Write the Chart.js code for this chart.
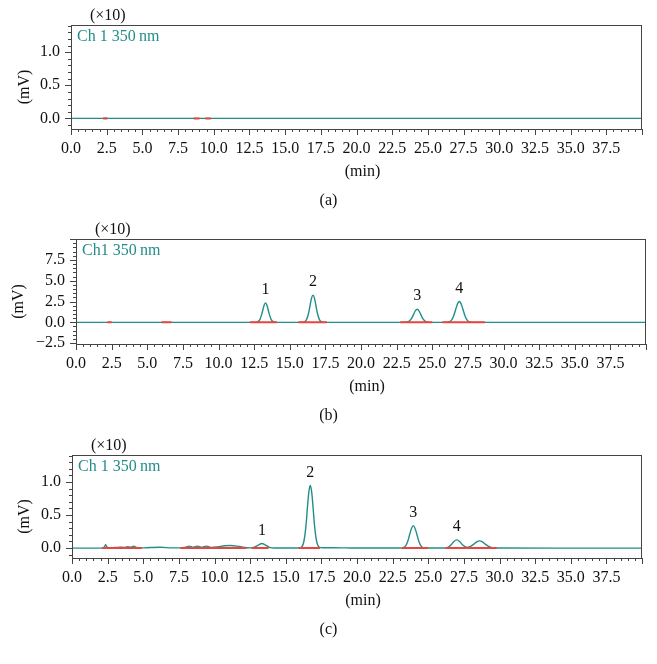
<!DOCTYPE html>
<html>
<head>
<meta charset="utf-8">
<script src="https://cdn.jsdelivr.net/npm/chart.js@4.4.1/dist/chart.umd.min.js"></script>
<style>
  html, body { margin: 0; padding: 0; background: #fff; }
  #wrap { position: relative; width: 657px; height: 664px; }
  canvas { position: absolute; left: 0; }
</style>
</head>
<body>
<div id="wrap">
  <canvas id="chartA" width="657" height="215" style="top:0"></canvas>
  <canvas id="chartB" width="657" height="215" style="top:215px"></canvas>
  <canvas id="chartC" width="657" height="234" style="top:430px"></canvas>
</div>
<script>
// tick labels
const timeTicks = [0, 2.5, 5, 7.5, 10, 12.5, 15, 17.5, 20, 22.5, 25, 27.5, 30, 32.5, 35, 37.5];
const mvTicksA = [0, 0.5, 1.0];
const mvTicksB = [-2.5, 0, 2.5, 5.0, 7.5];
const mvTicksC = [0, 0.5, 1.0];

// (a) blank
const timeA = [0, 2.2, 2.4, 2.6, 40];
const signalA = [0, 0, 0.004, 0, 0];
const baselineA = [[2.25, 2.55], [8.6, 9.0], [9.4, 9.8]];

// (b) standards
const timeB = [0, 12.6, 12.75, 12.9, 13.05, 13.2, 13.3, 13.4, 13.55, 13.7, 13.85, 14.0,
  15.9, 15.98, 16.18, 16.33, 16.43, 16.53, 16.63, 16.73, 16.83, 16.93, 17.08, 17.28, 17.4,
  23.1, 23.19, 23.39, 23.54, 23.69, 23.82, 23.94, 24.06, 24.19, 24.34, 24.49, 24.69, 24.8,
  26.0, 26.1, 26.35, 26.5, 26.65, 26.78, 26.9, 27.02, 27.15, 27.3, 27.45, 27.7, 27.85, 40];
const signalB = [0, 0, 0.05, 0.32, 1.07, 2.06, 2.33, 2.06, 1.07, 0.32, 0.05, 0,
  0, 0.03, 0.33, 1.18, 2.08, 2.91, 3.26, 2.91, 2.08, 1.18, 0.33, 0.03, 0,
  0, 0.02, 0.14, 0.44, 0.95, 1.40, 1.57, 1.40, 0.95, 0.44, 0.14, 0.02, 0,
  0, 0.02, 0.27, 0.77, 1.58, 2.25, 2.5, 2.25, 1.58, 0.77, 0.27, 0.02, 0, 0];
const baselineB = [[2.2, 2.5], [6.0, 6.7], [12.2, 14.1], [15.6, 17.6], [22.75, 25.0], [25.7, 28.7]];
const peakTimesB = [13.3, 16.63, 23.94, 26.9];
const peakTopsB = [2.33, 3.26, 1.57, 2.5];

// (c) sample
const timeC = [0, 2.2, 2.3, 2.36, 2.42, 2.55, 3.0, 3.4, 3.65, 3.9, 4.1, 4.35, 4.5, 4.9, 5.5, 6.2, 7.0,
  7.6, 8.0, 8.23, 8.5, 8.8, 9.1, 9.45, 9.8, 10.2, 10.7, 11.1, 11.6, 12.1, 12.5,
  12.8, 13.1, 13.33, 13.55, 13.85, 14.2, 15.9,
  16.07, 16.27, 16.42, 16.52, 16.62, 16.72, 16.82, 16.92, 17.02, 17.17, 17.37, 17.6, 18.3, 19.0, 19.5,
  23.1, 23.2, 23.4, 23.55, 23.7, 23.83, 23.95, 24.07, 24.2, 24.35, 24.5, 24.7, 24.9,
  26.2, 26.45, 26.6, 26.8, 27.0, 27.2, 27.4, 27.6, 27.8,
  28.0, 28.2, 28.4, 28.6, 28.8, 29.0, 29.2, 29.45, 29.8, 40];
const signalC = [0, 0, 0.03, 0.05, 0.03, 0.003, 0.008, 0.015, 0.01, 0.02, 0.012, 0.03, 0.01, 0.003, 0.008, 0.012, 0.004,
  0.003, 0.015, 0.03, 0.012, 0.03, 0.012, 0.03, 0.01, 0.018, 0.035, 0.04, 0.03, 0.01, 0.003,
  0.015, 0.05, 0.07, 0.05, 0.012, 0.002, 0.002,
  0.008, 0.1, 0.34, 0.61, 0.85, 0.95, 0.85, 0.61, 0.34, 0.1, 0.012, 0.006, 0.006, 0.004, 0.001,
  0.001, 0.004, 0.03, 0.095, 0.21, 0.30, 0.34, 0.30, 0.21, 0.095, 0.03, 0.004, 0.001,
  0.002, 0.02, 0.05, 0.1, 0.125, 0.1, 0.05, 0.02, 0.012,
  0.03, 0.06, 0.095, 0.11, 0.095, 0.06, 0.03, 0.008, 0.001, 0];
const baselineC = [[2.1, 4.9], [7.6, 12.25], [12.6, 13.8], [15.9, 17.4], [23.15, 25.0], [26.2, 29.8]];
const peakTimesC = [13.33, 16.72, 23.95, 27.0];
const peakTopsC = [0.07, 0.95, 0.34, 0.125];

const peakNames = ['1', '2', '3', '4'];

const TEAL = '#238d8a';
const RED = '#e8453c';
const SERIF = '"Liberation Serif", "Times New Roman", serif';

function fmt(v) {
  return (v < 0 ? '\u2212' : '') + Math.abs(v).toFixed(1);
}

function points(xs, ys) {
  return xs.map((t, i) => ({ x: t, y: ys[i] }));
}

function segments(list) {
  const out = [];
  list.forEach(([s, e]) => out.push({ x: s, y: 0 }, { x: e, y: 0 }, { x: e, y: null }));
  return out;
}

// frame, minor/major ticks and text
const decorations = {
  id: 'decorations',
  afterDraw(chart, args, o) {
    const { ctx, chartArea: a } = chart;
    const x = chart.scales.x, y = chart.scales.y;
    ctx.save();
    ctx.strokeStyle = '#444';
    ctx.lineWidth = 1;
    ctx.strokeRect(a.left + 0.5, a.top + 0.5, a.right - a.left - 1, a.bottom - a.top);

    ctx.beginPath();
    for (let k = 0; k * 0.5 <= x.max + 1e-9; k++) {
      const px = Math.round(x.getPixelForValue(k * 0.5)) + 0.5;
      ctx.moveTo(px, a.bottom);
      ctx.lineTo(px, a.bottom + (k % 5 === 0 ? 6 : 3));
    }
    const k0 = Math.ceil(y.min / o.yMinor - 1e-9), k1 = Math.floor(y.max / o.yMinor + 1e-9);
    for (let k = k0; k <= k1; k++) {
      const v = k * o.yMinor;
      const r = v / o.yMajor;
      const major = Math.abs(r - Math.round(r)) < 1e-6;
      const py = Math.round(y.getPixelForValue(v)) + 0.5;
      ctx.moveTo(a.left, py);
      ctx.lineTo(a.left - (major ? 6 : 3), py);
    }
    ctx.stroke();

    ctx.font = '16px ' + SERIF;
    ctx.textBaseline = 'middle';
    ctx.fillStyle = '#111';
    ctx.textAlign = 'left';
    ctx.fillText('(\u00d710)', a.left + 19, a.top - 9);

    ctx.fillStyle = TEAL;
    ctx.fillText(o.channel, a.left + 6, a.top + 12);

    ctx.fillStyle = '#111';
    ctx.textAlign = 'center';
    (o.peakTimes || []).forEach((t, i) => {
      ctx.fillText(peakNames[i], x.getPixelForValue(t), y.getPixelForValue(o.peakTops[i]) - 13);
    });

    ctx.fillText('(min)', (a.left + a.right) / 2 + 6, a.bottom + 43);
    ctx.fillText(o.caption, chart.width / 2, a.bottom + 72);

    ctx.translate(o.yTitleX, (a.top + a.bottom) / 2 + 10);
    ctx.rotate(-Math.PI / 2);
    ctx.fillText('(mV)', 0, 0);
    ctx.restore();
  }
};

function makeChart(id, p) {
  const canvas = document.getElementById(id);
  return new Chart(canvas, {
    type: 'line',
    data: {
      datasets: [
        {
          data: segments(p.baseline),
          borderColor: RED,
          borderWidth: 2,
          pointRadius: 0,
          tension: 0
        },
        {
          data: points(p.time, p.signal),
          borderColor: TEAL,
          borderWidth: 1.4,
          pointRadius: 0,
          cubicInterpolationMode: 'monotone'
        }
      ]
    },
    options: {
      responsive: false,
      animation: false,
      devicePixelRatio: 1,
      layout: { padding: { top: p.top, right: 657 - p.right, left: 0, bottom: 0 } },
      plugins: {
        legend: { display: false },
        tooltip: { enabled: false },
        decorations: {
          channel: p.channel, caption: p.caption, yTitleX: p.yTitleX,
          yMinor: p.yMinor, yMajor: p.yMajor,
          peakTimes: p.peakTimes, peakTops: p.peakTops
        }
      },
      scales: {
        x: {
          type: 'linear', min: 0, max: 40,
          border: { display: false },
          grid: { display: false, tickLength: 6 },
          afterBuildTicks: s => { s.ticks = timeTicks.map(v => ({ value: v })); },
          afterFit: s => { s.height = canvas.height - p.bottom; },
          ticks: { autoSkip: false, maxRotation: 0, padding: 4, color: '#111',
                   font: { family: SERIF, size: 16 }, callback: v => fmt(v) }
        },
        y: {
          type: 'linear', min: p.yMin, max: p.yMax,
          border: { display: false },
          grid: { display: false, tickLength: 6 },
          afterBuildTicks: s => { s.ticks = p.yTicks.map(v => ({ value: v })); },
          afterFit: s => { s.width = p.left; },
          ticks: { padding: 5, color: '#111',
                   font: { family: SERIF, size: 16 }, callback: v => fmt(v) }
        }
      }
    },
    plugins: [decorations]
  });
}

makeChart('chartA', {
  time: timeA, signal: signalA, baseline: baselineA,
  yTicks: mvTicksA, yMin: -0.16, yMax: 1.41, yMinor: 0.1, yMajor: 0.5,
  left: 71, right: 642, top: 25, bottom: 129, yTitleX: 25,
  channel: 'Ch 1 350\u2009nm', caption: '(a)'
});

makeChart('chartB', {
  time: timeB, signal: signalB, baseline: baselineB,
  yTicks: mvTicksB, yMin: -2.6, yMax: 10.0, yMinor: 0.5, yMajor: 2.5,
  left: 76, right: 646, top: 24, bottom: 129, yTitleX: 19,
  channel: 'Ch1 350\u2009nm', caption: '(b)',
  peakTimes: peakTimesB, peakTops: peakTopsB
});

makeChart('chartC', {
  time: timeC, signal: signalC, baseline: baselineC,
  yTicks: mvTicksC, yMin: -0.15, yMax: 1.41, yMinor: 0.1, yMajor: 0.5,
  left: 72, right: 642, top: 25, bottom: 128, yTitleX: 25,
  channel: 'Ch 1 350\u2009nm', caption: '(c)',
  peakTimes: peakTimesC, peakTops: peakTopsC
});
</script>
</body>
</html>
